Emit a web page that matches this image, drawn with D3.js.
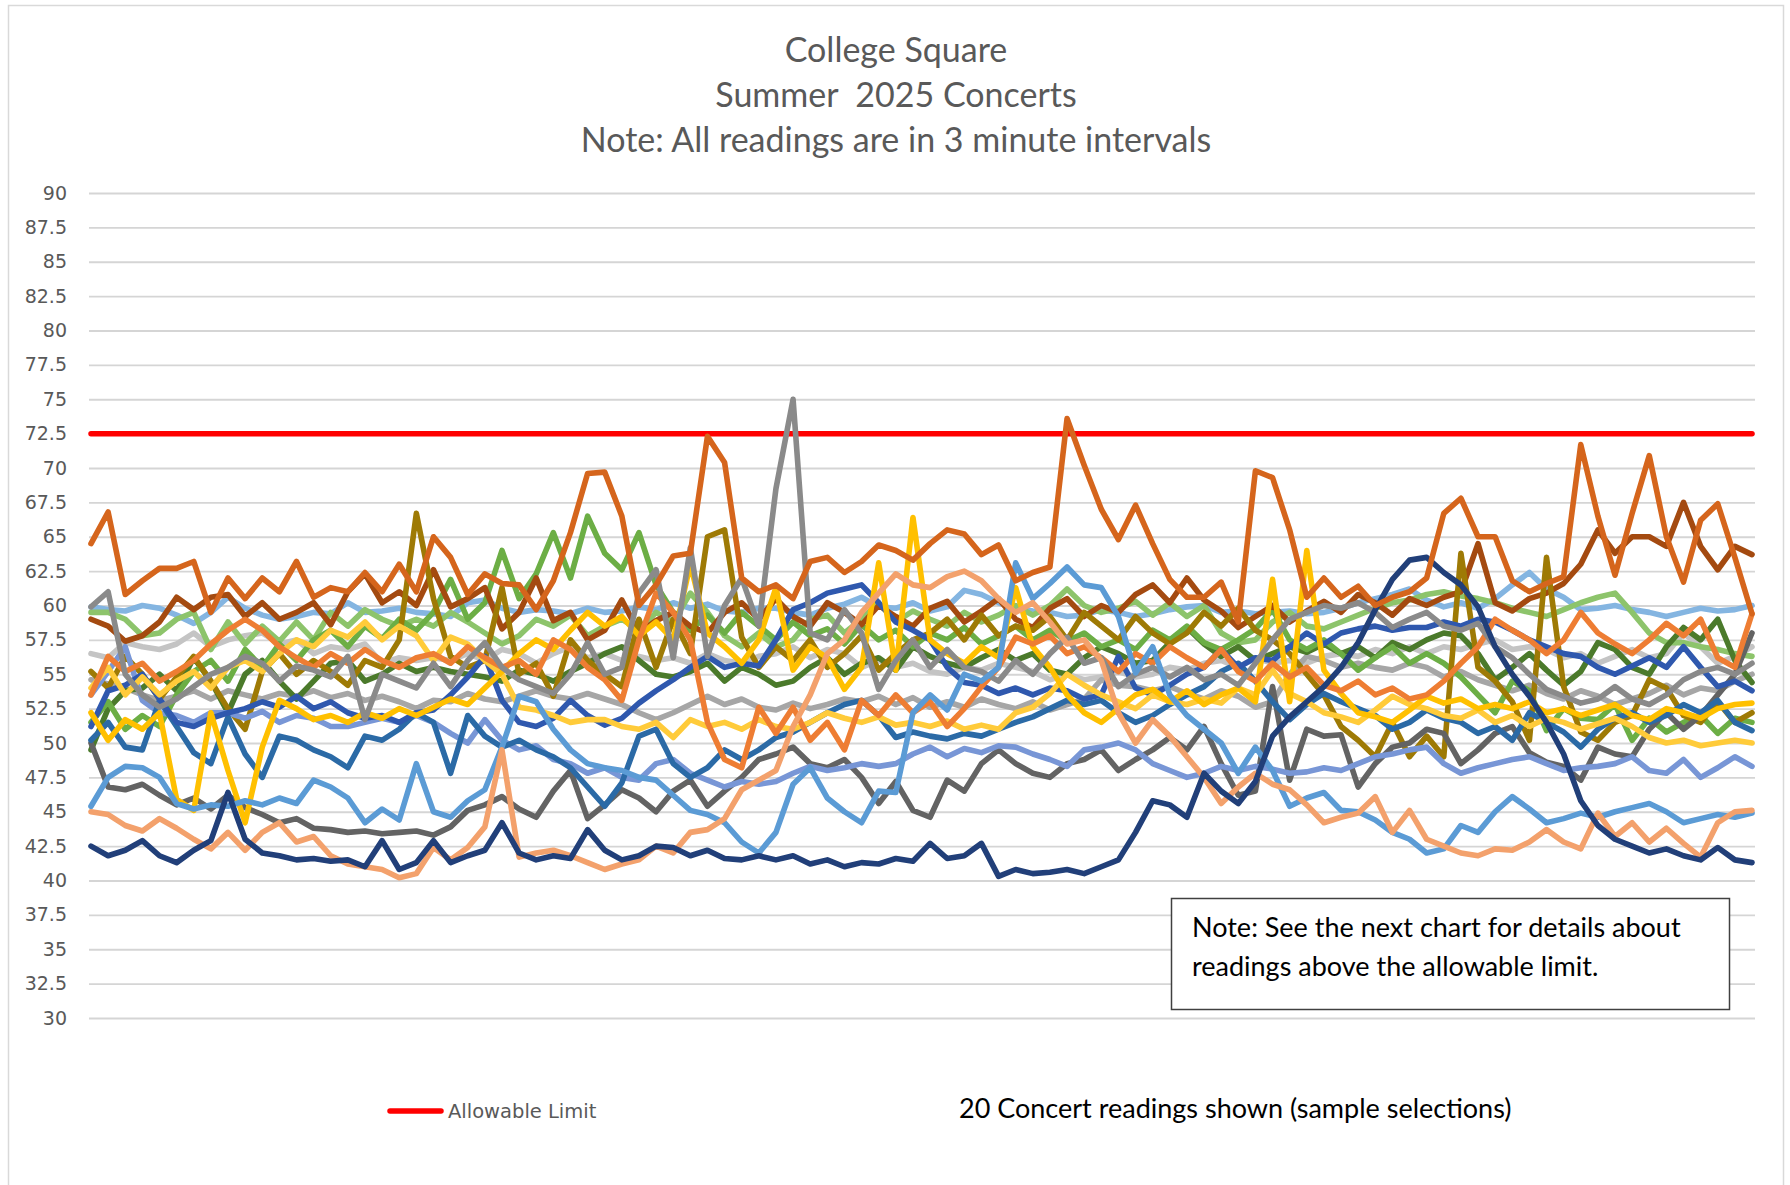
<!DOCTYPE html>
<html>
<head>
<meta charset="utf-8">
<script src="https://cdn.jsdelivr.net/npm/d3@7"></script>
<style>
  body { margin: 0; background: #fff; }
  svg { display: block; }
</style>
</head>
<body>
<div id="chart"></div>
<script>
// readings (dB) every 3 minutes, one array per concert
var concert01 = [64.5, 66.8, 60.8, 61.8, 62.7, 62.7, 63.2, 59.5, 62, 60.5,
  62, 61, 63.2, 60.6, 61.3, 61, 62.4, 61, 63, 61,
  65, 63.5, 60.8, 62.3, 61.6, 61.5, 59.7, 61.8, 65.3, 69.6,
  69.7, 66.5, 60, 61.5, 63.6, 63.8, 72.3, 70.4, 62, 61,
  61.5, 60.5, 63.2, 63.5, 62.4, 63.2, 64.4, 64, 63.3, 64.5,
  65.5, 65.2, 63.7, 64.4, 61.8, 62.4, 62.8, 73.6, 70.2, 67,
  64.8, 67.3, 64.5, 61.9, 60.6, 60.6, 61.7, 58.8, 69.8, 69.3,
  65.5, 60.6, 62, 60.6, 61.4, 60, 60.6, 61, 62, 66.7,
  67.8, 65, 65, 61.8, 61, 61.6, 62.1, 71.7, 66.5, 62.2,
  66.7, 70.9, 65, 61.7, 66.2, 67.4, 63.5, 59.4];
var concert02 = [59, 58.5, 57.4, 57.8, 58.8, 60.6, 59.7, 60.6, 60.8, 59.2,
  60.2, 59, 59.5, 60.2, 58.6, 61, 62.3, 60.2, 61, 60,
  62.6, 59.9, 60.5, 61.3, 58.3, 59.5, 62, 58.9, 59.5, 57.5,
  58.2, 60.4, 58, 58.9, 59.5, 58.5, 58, 59.5, 60.2, 59,
  60.5, 59.2, 58.5, 60.2, 59.5, 58.6, 60, 59.2, 58.5, 59.8,
  60.3, 58.8, 59.6, 60.5, 59, 58.4, 59.8, 60.5, 59.2, 60,
  59.5, 60.8, 61.5, 60.2, 62, 60.4, 59.6, 58.4, 59.2, 60,
  58.8, 59.6, 60.3, 59.5, 60.8, 60.2, 59.3, 60.5, 60, 60.6,
  61, 64.5, 60.2, 59.6, 60.5, 60.9, 61.6, 63, 65.5, 63.8,
  65, 65, 64.3, 67.5, 64.3, 62.6, 64.3, 63.7];
var concert03 = [55.2, 54, 56.3, 55, 53.2, 54.8, 56.3, 54.5, 52.5, 51,
  55.2, 56.5, 55, 56, 55.2, 54.2, 56, 55.5, 57.5, 66.7,
  60.5, 56.3, 55.5, 56, 61.3, 55, 55.8, 53.4, 57.5, 56,
  55, 54.1, 59, 55.5, 59, 56.5, 65, 65.5, 57.7, 55.5,
  57, 56, 57.5, 55.5, 56.5, 57.8, 55.3, 56.5, 57.5, 58,
  59, 57.5, 59.3, 57.8, 58.5, 58.2, 59.2, 57.5, 59.5, 58.5,
  57.5, 59.2, 58, 57.2, 58, 59.5, 58.5, 59.8, 58.2, 57.5,
  56.5, 55, 53.5, 51.2, 50.2, 49, 51.5, 49, 50.5, 49,
  63.8, 55.5, 54.5, 53, 50.2, 63.5, 54.1, 50.8, 50.2, 51.5,
  52, 54.6, 54, 52, 51.5, 53, 51.5, 52.2];
var concert04 = [51.5, 53, 51, 52, 51.2, 53.5, 55.2, 56, 54.5, 56.8,
  55.5, 57.2, 56, 57.5, 58.2, 57, 58.5, 57.6, 59, 58.2,
  59.5, 61.9, 59, 60.2, 64, 60.5, 62.3, 65.3, 62, 66.5,
  63.8, 62.6, 65.3, 61.5, 59.5, 58.2, 59.3, 58, 59.5, 58.5,
  57.5, 58.8, 57.8, 58.3, 57.2, 58.6, 57.5, 58.2, 57, 58,
  57.5, 58.4, 57.2, 57.8, 58.5, 57.5, 58.2, 57.4, 58, 57,
  57.5, 56.8, 58.2, 57.5, 58.5, 57.3, 56.8, 57.5, 58.3, 59.7,
  57.5, 56.8, 57.5, 56.5, 55.3, 56.2, 57, 55.8, 56.5, 55.8,
  54.8, 53.5, 52.2, 54.5, 53.8, 50.9, 52.5, 51.8, 51.7, 52.8,
  50.2, 51.8, 50.8, 51.5, 52, 50.7, 51.8, 51.5];
var concert05 = [59.5, 59.5, 59, 57.8, 58, 59, 59.5, 56.8, 58.8, 57.2,
  58.5, 57.4, 58.8, 57.5, 59.5, 58.5, 59.7, 59, 58.5, 59,
  58.5, 59.5, 58.8, 58, 57.2, 57.8, 59, 58.5, 59.3, 57.8,
  58.5, 59, 58.2, 59.5, 58.8, 60.9, 59.5, 57.8, 57, 58,
  57, 57.5, 59, 59.3, 58, 59, 60.2, 58.8, 59.6, 59,
  58.5, 59.5, 58.8, 59.3, 60, 59.3, 60, 61.2, 60, 59.5,
  59.8, 60.3, 59.3, 60.2, 59.2, 60, 58, 57.3, 57.5, 58.8,
  59.5, 58.5, 58.3, 58.8, 59.3, 59.8, 60.2, 60.4, 60.8, 61,
  60.7, 60.5, 60.2, 59.8, 59.5, 59.2, 59.7, 60.2, 60.6, 60.9,
  59.5, 58, 57.3, 57.3, 57, 56.8, 56.5, 56.3];
var concert06 = [49.5, 52.5, 53.8, 54, 55, 53.8, 56.2, 54.5, 52.2, 55,
  56, 54.5, 53.2, 54.5, 55.8, 56, 54.5, 55, 55.8, 55.2,
  55.5, 55.2, 55, 54.8, 54.5, 55.3, 55, 54.5, 55.2, 55.8,
  56.5, 57, 56, 55, 54.8, 55.2, 55.8, 54.5, 55.5, 55,
  54.2, 54.5, 55.5, 56.2, 55, 55.8, 56.2, 55.3, 57, 56.3,
  55.8, 55.5, 56.2, 56.8, 56, 56.5, 55.3, 55, 56.2, 57,
  56.5, 55.8, 56, 57.3, 58.4, 57.2, 56.3, 57, 56, 56.5,
  57, 56.6, 57.2, 56.5, 57, 56.2, 57.3, 56.8, 57.5, 58,
  57.8, 56.5, 54.6, 55.5, 56.5, 55.3, 54.2, 55.2, 57.3, 56.8,
  55.5, 55, 57, 58.4, 57.5, 59, 56, 54.4];
var concert07 = [59.9, 61, 55, 53.5, 52.6, 53.2, 54.1, 55, 55.5, 56.3,
  55.8, 54.5, 55.6, 55.3, 54.8, 56.3, 51.7, 55, 54.5, 54,
  55.8, 54.1, 56, 57.3, 55.5, 54.6, 54.1, 53.6, 55, 57.3,
  55, 55.5, 60.9, 62.6, 56.2, 64.2, 56.3, 60, 62, 58.5,
  68.5, 75, 58, 57.5, 59.7, 58, 53.9, 56, 57.5, 55.5,
  56.8, 55.5, 55.2, 54.5, 56, 55, 56.5, 57.7, 55.8, 56.2,
  54.1, 55, 55.5, 54.8, 55.5, 54.6, 55, 54.2, 55.8, 57.5,
  59, 59.5, 60, 59.8, 60.2, 59.5, 58.4, 59, 59.5, 58.5,
  58.2, 58.7, 57, 56.2, 55, 53.9, 53.4, 52.9, 53.2, 54.1,
  53.2, 52.8, 53.5, 54.6, 55.2, 55.5, 55, 55.8];
var concert08 = [50, 46.8, 46.6, 47, 46.2, 45.5, 46, 45.2, 46.2, 45.3,
  44.8, 44.2, 44.5, 43.8, 43.7, 43.5, 43.6, 43.4, 43.5, 43.6,
  43.3, 43.9, 45.1, 45.5, 46.1, 45.2, 44.6, 46.5, 48, 44.5,
  45.5, 46.6, 46, 45, 46.5, 47.3, 45.4, 46.5, 47.5, 48.8,
  49.2, 49.7, 48.5, 48.2, 48.8, 47.5, 45.6, 47.2, 45.1, 44.6,
  47.3, 46.5, 48.5, 49.5, 48.5, 47.8, 47.5, 48.5, 48.8, 49.5,
  48, 48.8, 49.5, 50.4, 49.5, 51.2, 48.5, 46.2, 46.5, 54.1,
  47.3, 51, 50.5, 50.6, 46.8, 48.5, 49.7, 50, 51, 50.7,
  48.5, 49.5, 50.7, 51.2, 49.3, 48.6, 48.3, 47.3, 49.7, 49.2,
  49, 51, 52.2, 51, 52, 53.5, 55, 58];
var concert09 = [56.5, 56.2, 57.3, 57, 56.8, 57.2, 58, 57, 57.5, 57.8,
  58, 57.2, 57.5, 56.5, 57, 56.8, 57.2, 55.8, 56.2, 56,
  56.2, 56, 56.5, 56, 56.8, 56.5, 55.8, 56.5, 57, 56.2,
  56.5, 56, 56.3, 56, 56.2, 55.8, 56.5, 56, 55.8, 56.3,
  56.5, 57, 56.2, 56.8, 56.5, 55.5, 56, 55.5, 55.8, 55.2,
  55, 55.5, 55.3, 55.8, 55.5, 55.2, 54.6, 55, 54.6, 54.8,
  55.2, 54.8, 55, 55.5, 55.3, 55.8, 56, 55.5, 56.2, 55.8,
  56, 55.8, 56.3, 56.5, 56.3, 56.8, 56.5, 57, 56.5, 57,
  56.8, 57.2, 57.5, 56.8, 57, 56.8, 56.2, 56.5, 55.8, 56.3,
  56.8, 56.2, 56.5, 58, 57, 55.8, 56.3, 57];
var concert10 = [54.6, 54.3, 54, 53.5, 53.1, 53.4, 53.8, 53.2, 53.8, 53.5,
  53.2, 53.6, 53.4, 53.8, 53.3, 53.6, 53.1, 53.4, 53, 52.5,
  53.1, 53, 53.6, 53.2, 53, 53.4, 53.8, 53.4, 53.2, 53.6,
  53.2, 52.8, 52.2, 51.7, 52.2, 52.8, 53.4, 52.8, 53.2, 52.6,
  52.4, 52.9, 52.5, 52.8, 53.2, 53, 53.4, 52.8, 53.3, 52.6,
  53, 52.6, 53.2, 52.8, 52.5, 53, 52.4, 52.8, 53.2, 54.6,
  54.2, 54.1, 53.8, 54.1, 53.6, 53.2, 53.8, 53.4, 52.6, 53,
  55, 56.3, 56, 55.5, 55.8, 55.5, 55.3, 55.8, 55.5, 54.8,
  55.2, 54.6, 54.2, 53.8, 54.2, 53.6, 53.2, 53.8, 53.4, 52.8,
  53.2, 53.6, 54.2, 53.5, 54, 53.8, 54.5, 55];
var concert11 = [52.2, 50.2, 51.7, 51, 52.2, 45.9, 45.1, 52.2, 48, 44.2,
  49.7, 53.1, 52.5, 51.7, 52, 51.5, 52.2, 51.8, 52.5, 52,
  52.6, 53.2, 52.8, 54, 55.2, 56.5, 57.5, 56.8, 58.2, 59.5,
  58.5, 59.2, 57.8, 58.8, 57.5, 63, 58, 57, 55.8, 57.5,
  61.3, 55.3, 57, 56.2, 53.9, 55.5, 63.1, 55.3, 66.4, 57.5,
  56.5, 55.8, 57, 56.2, 61.3, 57, 55.5, 53.5, 52.2, 51.5,
  52.5, 53.5, 53.9, 53, 53.8, 52.8, 53.5, 54, 53, 61.9,
  53, 64, 55.3, 53.6, 52.2, 51.9, 51.5, 52.4, 53.4, 52.9,
  53.2, 52.5, 52.8, 52.5, 53, 52.2, 52.5, 52, 52.4, 52.8,
  52, 51.7, 52.5, 52.2, 51.8, 52.5, 52.8, 52.9];
var concert12 = [54, 55.5, 53.5, 54.8, 53.5, 54.5, 55.2, 54, 55.5, 56,
  55.2, 56.5, 57.5, 57, 58.2, 57.7, 58.8, 57.5, 58.5, 57.8,
  56, 57.7, 57.2, 56, 55, 52.6, 52.4, 52, 51.5, 51.7,
  51.7, 51.2, 51, 51.5, 50.4, 51.7, 51.2, 51.5, 51, 51.7,
  51.2, 51, 51.5, 52.2, 51.8, 51.5, 51.9, 51.3, 51.5, 51.2,
  51.6, 51, 51.3, 51, 52.2, 52.6, 53.6, 55, 54.2, 53.5,
  53, 52.5, 53.5, 53, 52.8, 53.2, 52.9, 54, 53.5, 55.3,
  53.6, 53, 52.2, 51.9, 51.5, 52.4, 53.4, 52.8, 52.5, 52,
  51.8, 52.4, 51.5, 52, 51.2, 51.8, 51.5, 51, 51.4, 51.8,
  51.2, 50.4, 50, 50.2, 49.8, 50, 50.2, 50];
var concert13 = [42.5, 41.8, 42.2, 42.9, 41.8, 41.3, 42.2, 42.9, 46.4, 43,
  42, 41.8, 41.5, 41.6, 41.4, 41.5, 41, 42.9, 40.8, 41.3,
  42.9, 41.3, 41.8, 42.2, 44.2, 42, 41.5, 41.8, 41.6, 43.7,
  42.2, 41.5, 41.8, 42.5, 42.4, 41.8, 42.2, 41.6, 41.5, 41.8,
  41.5, 41.8, 41.2, 41.5, 41, 41.3, 41.2, 41.6, 41.4, 42.7,
  41.6, 41.8, 42.7, 40.3, 40.8, 40.5, 40.6, 40.8, 40.5, 41,
  41.5, 43.5, 45.8, 45.5, 44.6, 47.8, 46.5, 45.6, 47.2, 50.5,
  51.9, 53, 54.1, 55.5, 57.3, 59.7, 61.9, 63.3, 63.5, 62.4,
  61.5, 59.9, 57, 55, 53.4, 51.5, 49.2, 45.8, 44, 43,
  42.5, 42, 42.3, 41.8, 41.5, 42.4, 41.5, 41.3];
var concert14 = [45, 44.8, 44, 43.6, 44.5, 43.8, 43, 42.3, 43.5, 42.2,
  43.5, 44.2, 42.8, 43.2, 41.8, 41.2, 41, 40.8, 40.2, 40.5,
  42.4, 41.5, 42.4, 43.9, 49.5, 41.7, 42, 42.2, 41.8, 41.3,
  40.8, 41.2, 41.5, 42.5, 42, 43.5, 43.7, 44.5, 46.6, 47.3,
  48, 51.2, 53.5, 56.5, 57.5, 59.5, 60.9, 62.3, 61.5, 61.3,
  62.1, 62.5, 61.8, 60.5, 59.5, 60.2, 58.8, 57.2, 57.5, 56,
  52.2, 50, 51.7, 50.5, 49, 47.5, 45.6, 46.8, 47.8, 47,
  46.6, 45.5, 44.2, 44.6, 44.9, 46.1, 43.5, 45.1, 43, 42.5,
  42, 41.8, 42.3, 42.2, 42.8, 43.7, 42.8, 42.3, 44.9, 43.2,
  44.2, 42.8, 43.8, 42.7, 41.7, 44.2, 45, 45.1];
var concert15 = [53.5, 56.3, 55.2, 55.8, 54.5, 55.2, 56, 57.2, 58.2, 59,
  58.2, 57, 56.2, 55.5, 56.5, 55.8, 56.8, 56, 55.5, 56.2,
  56.5, 55.8, 57, 56.2, 55.5, 56, 55, 57.5, 56.8, 55.5,
  54.6, 53.1, 57.5, 60.9, 59.5, 57.5, 51.5, 48.8, 48.2, 52.6,
  50.7, 52.6, 50.2, 51.5, 49.5, 53.1, 52, 53.5, 52.2, 53,
  51.2, 52.5, 54.1, 55.5, 57.7, 57.2, 57.8, 56.5, 57, 56.2,
  55.2, 56.5, 55.8, 57, 56.2, 55.5, 56.8, 55.2, 54.5, 55.8,
  54.8, 55.5, 54.2, 53.8, 54.5, 53.5, 54, 53.2, 53.5, 54.5,
  55.8, 57, 59, 58.2, 57.5, 56.5, 57.5, 59.5, 58, 57.2,
  56.5, 57.5, 58.7, 57.8, 59, 56.2, 55.5, 59.4];
var concert16 = [59.9, 59.7, 59.6, 60, 59.8, 59.3, 58.7, 59.5, 60.6, 59.8,
  59.3, 59, 59.2, 59.5, 59.4, 60.2, 59.5, 59.6, 59.8, 59.5,
  59.4, 59.2, 60.2, 60.4, 59.8, 59.5, 59.7, 59.6, 59.4, 59.8,
  59.5, 59.6, 59.9, 59.7, 60.2, 59.8, 60.1, 59.6, 59.5, 59.8,
  59.8, 59.5, 59.3, 59.8, 60.1, 60.6, 59.9, 59.8, 60.2, 59.6,
  59.9, 61.1, 60.8, 60.2, 59.8, 59.6, 59.5, 59.2, 59.3, 59.7,
  59.5, 59.2, 59.4, 59.7, 59.9, 60, 59.5, 59.6, 59.4, 59.5,
  59.6, 59.4, 59.5, 59.8, 60.2, 60.5, 60.8, 61.2, 60.4, 59.9,
  60.2, 59.8, 60.5, 61.5, 62.4, 61.2, 60.6, 59.7, 59.8, 60,
  59.7, 59.5, 59.2, 59.5, 59.8, 59.6, 59.7, 60];
var concert17 = [45.4, 47.5, 48.3, 48.2, 47.5, 45.6, 45.2, 45.5, 45.4, 45.8,
  45.5, 46, 45.6, 47.3, 46.8, 46, 44.2, 45.2, 44.4, 48.5,
  45, 44.6, 45.8, 46.6, 49.7, 53.4, 53, 51, 49.5, 48.5,
  48.2, 48, 47.5, 47.3, 46.2, 45.1, 44.8, 44.2, 42.8, 42,
  43.5, 47, 48.2, 46, 45, 44.2, 46.5, 46.4, 52.2, 53.5,
  52.4, 55, 54.5, 55.5, 63.1, 60.5, 61.6, 62.8, 61.5, 61.3,
  59.2, 55.1, 57, 53.5, 52, 51, 50, 47.8, 49.7, 48,
  45.4, 46, 46.4, 45.1, 45, 44.4, 43.5, 43, 42, 42.3,
  44, 43.5, 45, 46.1, 45.2, 44.2, 44.5, 44.9, 44.6, 45,
  45.3, 45.6, 45, 44.2, 44.5, 44.8, 44.6, 44.9];
var concert18 = [53.5, 55.2, 57, 53.1, 52.2, 52, 51.5, 52.2, 52.2, 51.8,
  52.3, 51.5, 52, 51.8, 51.2, 51.2, 51.5, 51.8, 51.5, 52,
  51.5, 50.7, 50, 51.7, 50.2, 49.5, 49.8, 48.8, 48.5, 47.8,
  48.2, 47.5, 47.3, 48.5, 48.8, 47.8, 47.3, 46.8, 47.2, 47,
  47.2, 47.8, 48.3, 48, 48.2, 48.5, 48.3, 48.5, 49.2, 49.7,
  49, 49.6, 49.3, 49.8, 49.7, 49.2, 48.8, 48.3, 49.5, 49.7,
  50, 49.5, 48.5, 48, 47.5, 47.8, 48.3, 48, 48.3, 48.1,
  47.8, 47.9, 48.2, 48, 48.5, 49, 49.2, 49.5, 49.7, 48.5,
  47.8, 48.2, 48.5, 48.8, 49, 48.5, 48, 48.2, 48.3, 48.5,
  49, 48, 47.8, 48.8, 47.5, 48.2, 49, 48.3];
var concert19 = [51.2, 53.8, 54.2, 55, 53.2, 51.5, 51.2, 51.8, 52.2, 52.5,
  53, 52.6, 53.4, 52.5, 53, 52.2, 51.8, 52, 51.5, 52.2,
  52.4, 53.5, 54.8, 56.3, 53.1, 51.5, 51.2, 51.8, 53.1, 52,
  51.3, 51.8, 52.9, 53.8, 54.6, 55.5, 56.3, 55.5, 55.8, 55.6,
  57.5, 59.7, 60.2, 60.9, 61.2, 61.5, 60.2, 58.8, 58.2, 57.5,
  55.5, 54.4, 54.2, 53.6, 54, 53.5, 54, 53.8, 53.2, 53.5,
  56.3, 54, 53.5, 54.2, 55, 55.5, 56.8, 55.5, 56.2, 56,
  57, 58, 57.2, 58, 58.3, 58.5, 58.2, 58.4, 58.4, 58.8,
  58.5, 59, 58.8, 58.2, 57.5, 57, 56.5, 56.3, 55.5, 55,
  55.6, 56.2, 55.5, 57, 55.5, 54.1, 54.5, 53.8];
var concert20 = [50.2, 51.5, 49.7, 49.5, 53.1, 51.2, 49.3, 48.5, 51.9, 49.2,
  47.5, 50.5, 50.2, 49.5, 49, 48.2, 50.5, 50.2, 51, 52.2,
  51.5, 47.8, 52, 50.5, 49.7, 50.2, 49.5, 49, 48.2, 46.8,
  45.4, 47.1, 50.5, 51, 48.5, 47.5, 48.2, 49.5, 48.8, 49.5,
  50.4, 50.8, 51.5, 52.2, 52.8, 53.1, 52, 50.4, 50.8, 50.5,
  50.3, 50.7, 50.5, 51, 51.5, 51.9, 52.5, 53.1, 52.8, 53.1,
  52.2, 51.5, 52, 52.8, 53.5, 54.1, 55.2, 55.8, 54.5, 53,
  51.7, 52.8, 53.6, 53, 52.5, 52, 51, 51.5, 52.4, 51.8,
  51.5, 50.7, 51.2, 50.2, 52.2, 51.5, 50.8, 49.7, 51, 51.8,
  52.2, 51.5, 52, 52.8, 52.2, 53.1, 51.5, 50.9];

var allowableLimit = 72.5;
var yTicks = [30, 32.5, 35, 37.5, 40, 42.5, 45, 47.5, 50, 52.5, 55, 57.5, 60,
  62.5, 65, 67.5, 70, 72.5, 75, 77.5, 80, 82.5, 85, 87.5, 90];
var titleLines = ["College Square", "Summer  2025 Concerts", "Note: All readings are in 3 minute intervals"];
var noteLines = ["Note: See the next chart for details about", "readings above the allowable limit."];

// drawing order (last on top) and colours
var concerts = [
  {values: concert16, color: "#84b5e1"},
  {values: concert09, color: "#c4c4c4"},
  {values: concert10, color: "#a6a6a6"},
  {values: concert05, color: "#8dc46b"},
  {values: concert06, color: "#4b7a2b"},
  {values: concert04, color: "#6cae45"},
  {values: concert02, color: "#a44a10"},
  {values: concert03, color: "#9e7a05"},
  {values: concert08, color: "#636363"},
  {values: concert18, color: "#7896d6"},
  {values: concert20, color: "#2b6aa6"},
  {values: concert19, color: "#2f58ae"},
  {values: concert12, color: "#ffcb3a"},
  {values: concert11, color: "#ffc000"},
  {values: concert15, color: "#ee7d33"},
  {values: concert07, color: "#8a8a8a"},
  {values: concert17, color: "#5b9bd5"},
  {values: concert14, color: "#f3a16c"},
  {values: concert13, color: "#213f79"},
  {values: concert01, color: "#d5651c"}
];

var svgWidth = 1790;
var svgHeight = 1185;
var plot = {left: 89, right: 1755, top: 193, bottom: 1018};

var svg = d3.select("#chart")
  .append("svg")
  .attr("width", svgWidth)
  .attr("height", svgHeight);

// chart border
svg.append("rect")
  .attr("x", 8.5)
  .attr("y", 5.5)
  .attr("width", 1775)
  .attr("height", 1200)
  .attr("fill", "#fff")
  .attr("stroke", "#d9d9d9")
  .attr("stroke-width", 1.5);

var xScale = d3.scaleLinear()
  .domain([0, concert01.length - 1])
  .range([91, 1752]);

var yScale = d3.scaleLinear()
  .domain([30, 90])
  .range([plot.bottom, plot.top]);

// gridlines + tick labels
var leftAxis = d3.axisLeft(yScale)
  .tickValues(yTicks)
  .tickFormat(d => d)
  .tickSize(-(plot.right - plot.left))
  .tickPadding(22);

var yAxis = svg.append("g")
  .attr("transform", `translate(${plot.left},0)`)
  .call(leftAxis);

yAxis.select(".domain").remove();
yAxis.selectAll("line")
  .attr("stroke", "#d5d5d5")
  .attr("stroke-width", 1.8);
yAxis.selectAll("text")
  .attr("fill", "#595959")
  .style("font-family", "'DejaVu Sans'")
  .style("font-size", "19px");

// title
svg.append("g")
  .selectAll("text")
  .data(titleLines)
  .enter()
  .append("text")
  .attr("x", 896)
  .attr("y", (d, i) => 62 + i * 45)
  .attr("text-anchor", "middle")
  .attr("fill", "#595959")
  .style("font-family", "Lato")
  .style("font-size", "34px")
  .style("white-space", "pre")
  .text(d => d);

// allowable limit
svg.append("line")
  .attr("x1", xScale(0))
  .attr("x2", xScale(concert01.length - 1))
  .attr("y1", yScale(allowableLimit))
  .attr("y2", yScale(allowableLimit))
  .attr("stroke", "#ff0000")
  .attr("stroke-width", 5.5)
  .attr("stroke-linecap", "round");

var line = d3.line()
  .x((d, i) => xScale(i))
  .y(d => yScale(d));

svg.append("g")
  .selectAll("path")
  .data(concerts)
  .enter()
  .append("path")
  .attr("d", d => line(d.values))
  .attr("fill", "none")
  .attr("stroke", d => d.color)
  .attr("stroke-width", 5.6)
  .attr("stroke-linejoin", "round")
  .attr("stroke-linecap", "round");

// note box
var noteGroup = svg.append("g");
noteGroup.append("rect")
  .attr("x", 1171.5)
  .attr("y", 898.5)
  .attr("width", 558)
  .attr("height", 111)
  .attr("fill", "#fff")
  .attr("stroke", "#404040")
  .attr("stroke-width", 1.5);
noteGroup.selectAll("text")
  .data(noteLines)
  .enter()
  .append("text")
  .attr("x", 1192)
  .attr("y", (d, i) => 937 + i * 39)
  .attr("fill", "#000")
  .style("font-family", "Lato")
  .style("font-size", "27px")
  .text(d => d);

// legend
svg.append("line")
  .attr("x1", 390)
  .attr("x2", 441)
  .attr("y1", 1111)
  .attr("y2", 1111)
  .attr("stroke", "#ff0000")
  .attr("stroke-width", 5.5)
  .attr("stroke-linecap", "round");
svg.append("text")
  .attr("x", 448)
  .attr("y", 1118)
  .attr("fill", "#595959")
  .style("font-family", "'DejaVu Sans'")
  .style("font-size", "19.5px")
  .text("Allowable Limit");
svg.append("text")
  .attr("x", 959)
  .attr("y", 1118)
  .attr("fill", "#000")
  .style("font-family", "Lato")
  .style("font-size", "27px")
  .text("20 Concert readings shown (sample selections)");
</script>
</body>
</html>
